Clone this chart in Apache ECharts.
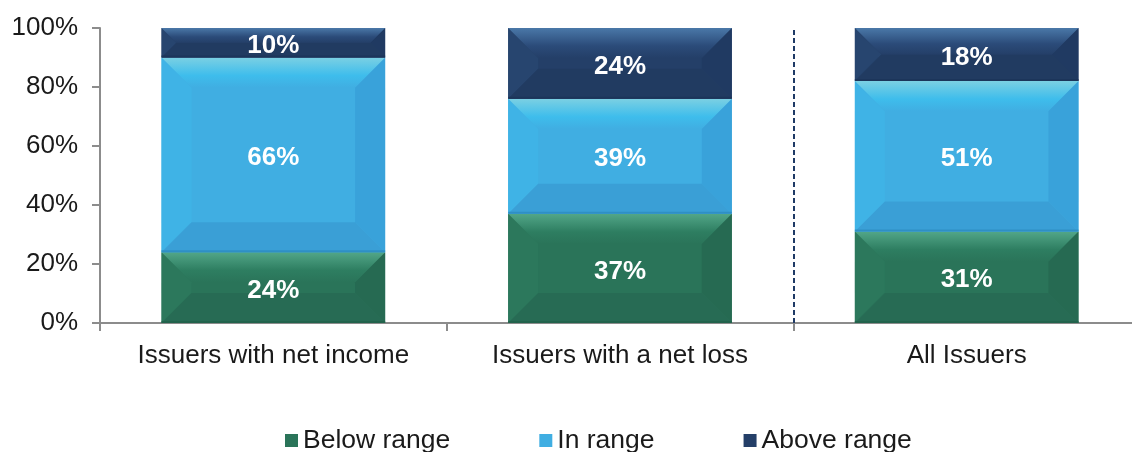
<!DOCTYPE html>
<html>
<head>
<meta charset="utf-8">
<script src="https://cdn.jsdelivr.net/npm/echarts@6/dist/echarts.min.js"></script>
<style>
  html, body { margin: 0; padding: 0; background: #fff; }
  #chart { width: 1132px; height: 452px; }
</style>
</head>
<body>
<div id="chart"></div>
<script>
// data
const categories = ["Issuers with net income", "Issuers with a net loss", "All Issuers"];
const belowRange = [24, 37, 31];
const inRange = [66, 39, 51];
const aboveRange = [10, 24, 18];
const yTicks = [0, 20, 40, 60, 80, 100];

// bevel palette per series: main face, top (from/to), left, right, bottom, edge
const palettes = {
  "Below range": { main: "#2a7459", top1: "#52a688", top2: "#2e7e61", left: "#2c785c", right: "#266a52", bottom: "#276b54", edge: "#22634c" },
  "In range": { main: "#40aee2", top1: "#7bd0e3", top2: "#3ebdec", left: "#3fb3e6", right: "#39a2da", bottom: "#3a9fd6", edge: "#2f8fc4" },
  "Above range": { main: "#243f68", top1: "#4a78a8", top2: "#2b4b79", left: "#27456f", right: "#203a62", bottom: "#213b61", edge: "#1c355a" },
};

// build stacked [cat, start, end, value] rows
const stackOrder = [["Below range", belowRange], ["In range", inRange], ["Above range", aboveRange]];
const base = categories.map(() => 0);
const stacked = stackOrder.map(([name, vals]) => {
  const rows = vals.map((v, i) => {
    const row = [i, base[i], base[i] + v, v];
    base[i] += v;
    return row;
  });
  return { name, rows };
});

function bevelRender(pal) {
  return function (params, api) {
    const c = api.value(0);
    const top = api.coord([c, api.value(2)]);
    const bot = api.coord([c, api.value(1)]);
    const w = api.size([1, 0])[0] * 0.645;
    const x0 = top[0] - w / 2, x1 = top[0] + w / 2;
    const y0 = top[1], y1 = bot[1];
    const b = Math.min(30, (y1 - y0) / 2);
    const poly = (pts, fill) => ({ type: "polygon", shape: { points: pts }, style: { fill: fill } });
    return {
      type: "group",
      children: [
        { type: "rect", shape: { x: x0, y: y0, width: w, height: y1 - y0 }, style: { fill: pal.main } },
        poly([[x0, y0], [x0 + b, y0 + b], [x0 + b, y1 - b], [x0, y1]], pal.left),
        poly([[x1, y0], [x1 - b, y0 + b], [x1 - b, y1 - b], [x1, y1]], pal.right),
        poly([[x0, y1], [x0 + b, y1 - b], [x1 - b, y1 - b], [x1, y1]], pal.bottom),
        poly([[x0, y0], [x1, y0], [x1 - b, y0 + b], [x0 + b, y0 + b]],
          new echarts.graphic.LinearGradient(0, 0, 0, 1, [
            { offset: 0, color: pal.top1 },
            { offset: 0.6, color: pal.top2 },
            { offset: 1, color: pal.main },
          ])),
        { type: "line", shape: { x1: x0, y1: y1 - 1, x2: x1, y2: y1 - 1 }, style: { stroke: pal.edge, lineWidth: 2 } },
        {
          type: "text",
          style: {
            text: api.value(3) + "%",
            x: top[0],
            y: (y0 + y1) / 2 + 3,
            align: "center",
            verticalAlign: "middle",
            fill: "#ffffff",
            fontSize: 26,
            fontWeight: "bold",
            fontFamily: "Liberation Sans, Arial, sans-serif",
          },
        },
      ],
    };
  };
}

const chart = echarts.init(document.getElementById("chart"));

const series = stacked.map((s) => ({
  name: s.name,
  type: "custom",
  xAxisIndex: 0,
  yAxisIndex: 0,
  itemStyle: { color: palettes[s.name].main },
  encode: { x: 0, y: [1, 2] },
  renderItem: bevelRender(palettes[s.name]),
  data: s.rows,
  silent: true,
}));

// dashed separator between 2nd and 3rd category, on a hidden value axis
series.push({
  name: "sep",
  type: "line",
  xAxisIndex: 1,
  yAxisIndex: 0,
  data: [],
  silent: true,
  markLine: {
    symbol: "none",
    silent: true,
    label: { show: false },
    lineStyle: { color: "#1f3a66", width: 2, type: [5, 3] },
    data: [{ xAxis: 2 }],
  },
});

const option = {
  animation: false,
  textStyle: { fontFamily: "Liberation Sans, Arial, sans-serif" },
  grid: { left: 100, top: 28, width: 1040, height: 295, outerBoundsMode: "none", containLabel: false },
  legend: {
    data: ["Below range", "In range", "Above range"],
    top: 422,
    left: 280,
    icon: "rect",
    itemWidth: 13,
    itemHeight: 13,
    itemGap: 89,
    textStyle: { fontSize: 26.5, color: "#1a1a1a" },
  },
  xAxis: [
    {
      type: "category",
      data: categories,
      axisLine: { lineStyle: { color: "#8c8c8c", width: 2 } },
      axisTick: { show: true, interval: 0, length: 8, lineStyle: { color: "#8c8c8c", width: 2 } },
      axisLabel: { fontSize: 26, color: "#1a1a1a", margin: 20, interval: 0, hideOverlap: false },
    },
    { type: "value", min: 0, max: 3, show: false },
  ],
  yAxis: {
    type: "value",
    min: yTicks[0],
    max: yTicks[yTicks.length - 1],
    interval: 20,
    axisLine: { show: true, lineStyle: { color: "#8c8c8c", width: 2 } },
    axisTick: { show: true, length: 8, lineStyle: { color: "#8c8c8c", width: 2 } },
    splitLine: { show: false },
    axisLabel: { fontSize: 26, color: "#1a1a1a", margin: 22, padding: [4, 0, 0, 0], formatter: "{value}%" },
  },
  series: series,
};

chart.setOption(option, true);
</script>
</body>
</html>
